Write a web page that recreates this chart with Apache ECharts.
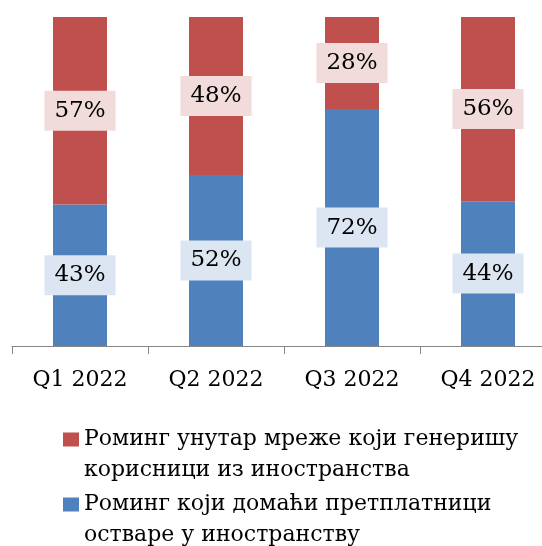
<!DOCTYPE html>
<html>
<head>
<meta charset="utf-8">
<script src="https://cdn.jsdelivr.net/npm/echarts@6/dist/echarts.min.js"></script>
<style>
  html, body { margin: 0; padding: 0; background: #fff; }
  #chart { width: 542px; height: 546px; }
</style>
</head>
<body>
<div id="chart"></div>
<script>
var categories = ['Q1 2022', 'Q2 2022', 'Q3 2022', 'Q4 2022'];
var seriesNames = [
  'Роминг унутар мреже који генеришу корисници из иностранства',
  'Роминг који домаћи претплатници остваре у иностранству'
];
var legendLines = {};
legendLines[seriesNames[0]] = 'Роминг унутар мреже који генеришу\nкорисници из иностранства';
legendLines[seriesNames[1]] = 'Роминг који домаћи претплатници\nостваре у иностранству';
var domesticAbroad = [43, 52, 72, 44];   // blue
var foreignInNetwork = [57, 48, 28, 56]; // red

var font = '"DejaVu Serif", serif';

var myChart = echarts.init(document.getElementById('chart'));

function labelStyle(bg) {
  return {
    show: true,
    position: 'inside',
    formatter: '{c}%',
    color: '#000',
    fontFamily: font,
    fontSize: 23,
    backgroundColor: bg,
    padding: [9, 10, 8, 10]
  };
}

myChart.setOption({
  animation: false,
  // the original plot is cut off on the right, so the grid runs past the edge
  grid: {
    left: 12, top: 17, bottom: 200, width: 544,
    containLabel: false, outerBoundsMode: 'none'
  },
  legend: {
    orient: 'vertical',
    left: 63,
    top: 424,
    height: 140,
    padding: 0,
    itemGap: 3,
    itemWidth: 16,
    itemHeight: 45,
    icon: 'path://M0,0h16v14h-16z M0,45L0,45Z',
    data: [seriesNames[0], seriesNames[1]],
    formatter: function (name) { return legendLines[name]; },
    textStyle: { fontFamily: font, fontSize: 22, color: '#000', lineHeight: 31 }
  },
  xAxis: {
    type: 'category',
    data: categories,
    axisLine: { lineStyle: { color: '#868686', width: 1 } },
    axisTick: { show: true, length: 8, lineStyle: { color: '#868686' } },
    axisLabel: { color: '#000', fontFamily: font, fontSize: 22, margin: 23 }
  },
  yAxis: {
    type: 'value',
    min: 0,
    max: 100,
    show: false,
    splitLine: { show: false }
  },
  series: [
    {
      name: seriesNames[1],
      type: 'bar',
      stack: 'total',
      barWidth: 54,
      data: domesticAbroad,
      itemStyle: { color: '#4F81BD' },
      label: labelStyle('#DCE6F2')
    },
    {
      name: seriesNames[0],
      type: 'bar',
      stack: 'total',
      barWidth: 54,
      data: foreignInNetwork,
      itemStyle: { color: '#C0504D' },
      label: labelStyle('#F2DCDB')
    }
  ]
});
</script>
</body>
</html>
